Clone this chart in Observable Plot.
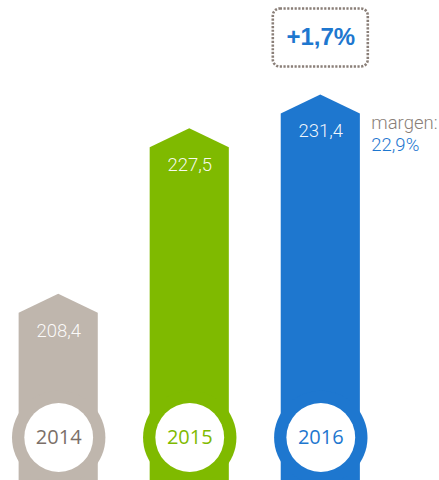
<!DOCTYPE html>
<html>
<head>
<meta charset="utf-8">
<script src="https://cdn.jsdelivr.net/npm/d3@7"></script>
<script src="https://cdn.jsdelivr.net/npm/@observablehq/plot@0.6"></script>
<style>
  html, body { margin: 0; padding: 0; background: #ffffff; }
  #chart svg { display: block; overflow: visible; }
</style>
</head>
<body>
<div id="chart"></div>
<script>
// ---- data ----
const years = [2014, 2015, 2016];
const values = [208.4, 227.5, 231.4];
const valueLabels = ["208,4", "227,5", "231,4"];
const yearLabels = ["2014", "2015", "2016"];
const colors = ["#bfb6ad", "#7fba00", "#1e77cf"];
const yearTextColors = ["#7b6f68", "#7fba00", "#1e77cf"];
const growthLabel = "+1,7%";
const marginLabel = "margen:";
const marginValue = "22,9%";

// ---- style / geometry constants ----
const yMin = 186.9, yMax = 242.3;
const halfWidth = 0.302;   // in years
const arrowHeight = 2.19;  // in value units
const lightFont = "Roboto, 'Liberation Sans', sans-serif";

const bars = years.map((year, i) => ({
  year, value: values[i], label: valueLabels[i], yearLabel: yearLabels[i],
  color: colors[i], textColor: yearTextColors[i]
}));

const shapes = bars.flatMap(b => [
  {year: b.year, x: b.year - halfWidth, top: b.value - arrowHeight, base: yMin, color: b.color},
  {year: b.year, x: b.year, top: b.value, base: yMin, color: b.color},
  {year: b.year, x: b.year + halfWidth, top: b.value - arrowHeight, base: yMin, color: b.color}
]);

const last = bars[bars.length - 1];

const chart = Plot.plot({
  width: 439,
  height: 480,
  margin: 0,
  style: {background: "#ffffff", overflow: "visible"},
  x: {domain: [2014, 2016], range: [58.2, 320.3], axis: null},
  y: {domain: [yMin, yMax], range: [480, 0], axis: null},
  marks: [
    Plot.areaY(shapes, {x: "x", y1: "base", y2: "top", z: "year", fill: d => d.color, curve: "linear"}),
    Plot.dot(bars, {x: "year", frameAnchor: "bottom", dy: -43, r: 46.7, fill: d => d.color, stroke: null}),
    Plot.dot(bars, {x: "year", frameAnchor: "bottom", dy: -43, r: 34.4, fill: "#ffffff", stroke: null}),
    Plot.text(bars, {x: "year", frameAnchor: "bottom", dy: -43, text: "yearLabel", fill: d => d.textColor,
      fontSize: 20, fontFamily: "Open Sans", lineAnchor: "middle", textAnchor: "middle"}),
    Plot.text(bars, {x: "year", y: "value", dy: 36.5, text: "label", fill: "#ffffff", fillOpacity: 0.95,
      fontSize: 18.5, fontWeight: 300, fontFamily: lightFont, lineAnchor: "middle", textAnchor: "middle"}),
    // growth annotation box above 2016
    Plot.rect([last], {x1: "year", x2: "year", insetLeft: -47.5, insetRight: -47.5,
      insetTop: 8.5, insetBottom: 413.5, rx: 7, fill: "none", stroke: "#8a7f78",
      strokeWidth: 2.6, strokeDasharray: "2.2,1.5"}),
    Plot.text([last], {x: "year", frameAnchor: "top", dy: 37, text: () => growthLabel, fill: "#1e77cf",
      fontSize: 24, fontWeight: "bold", fontFamily: "Liberation Sans", lineAnchor: "middle", textAnchor: "middle"}),
    Plot.text([last], {x: "year", y: "value", dx: 50.5, dy: 28.5, text: () => marginLabel, fill: "#8a7f78",
      fontSize: 18.5, fontWeight: 300, fontFamily: lightFont, lineAnchor: "middle", textAnchor: "start"}),
    Plot.text([last], {x: "year", y: "value", dx: 50.5, dy: 50, text: () => marginValue, fill: "#1e77cf",
      fontSize: 18.5, fontWeight: 300, fontFamily: lightFont, lineAnchor: "middle", textAnchor: "start"})
  ]
});

document.getElementById("chart").appendChild(chart);
</script>
</body>
</html>
